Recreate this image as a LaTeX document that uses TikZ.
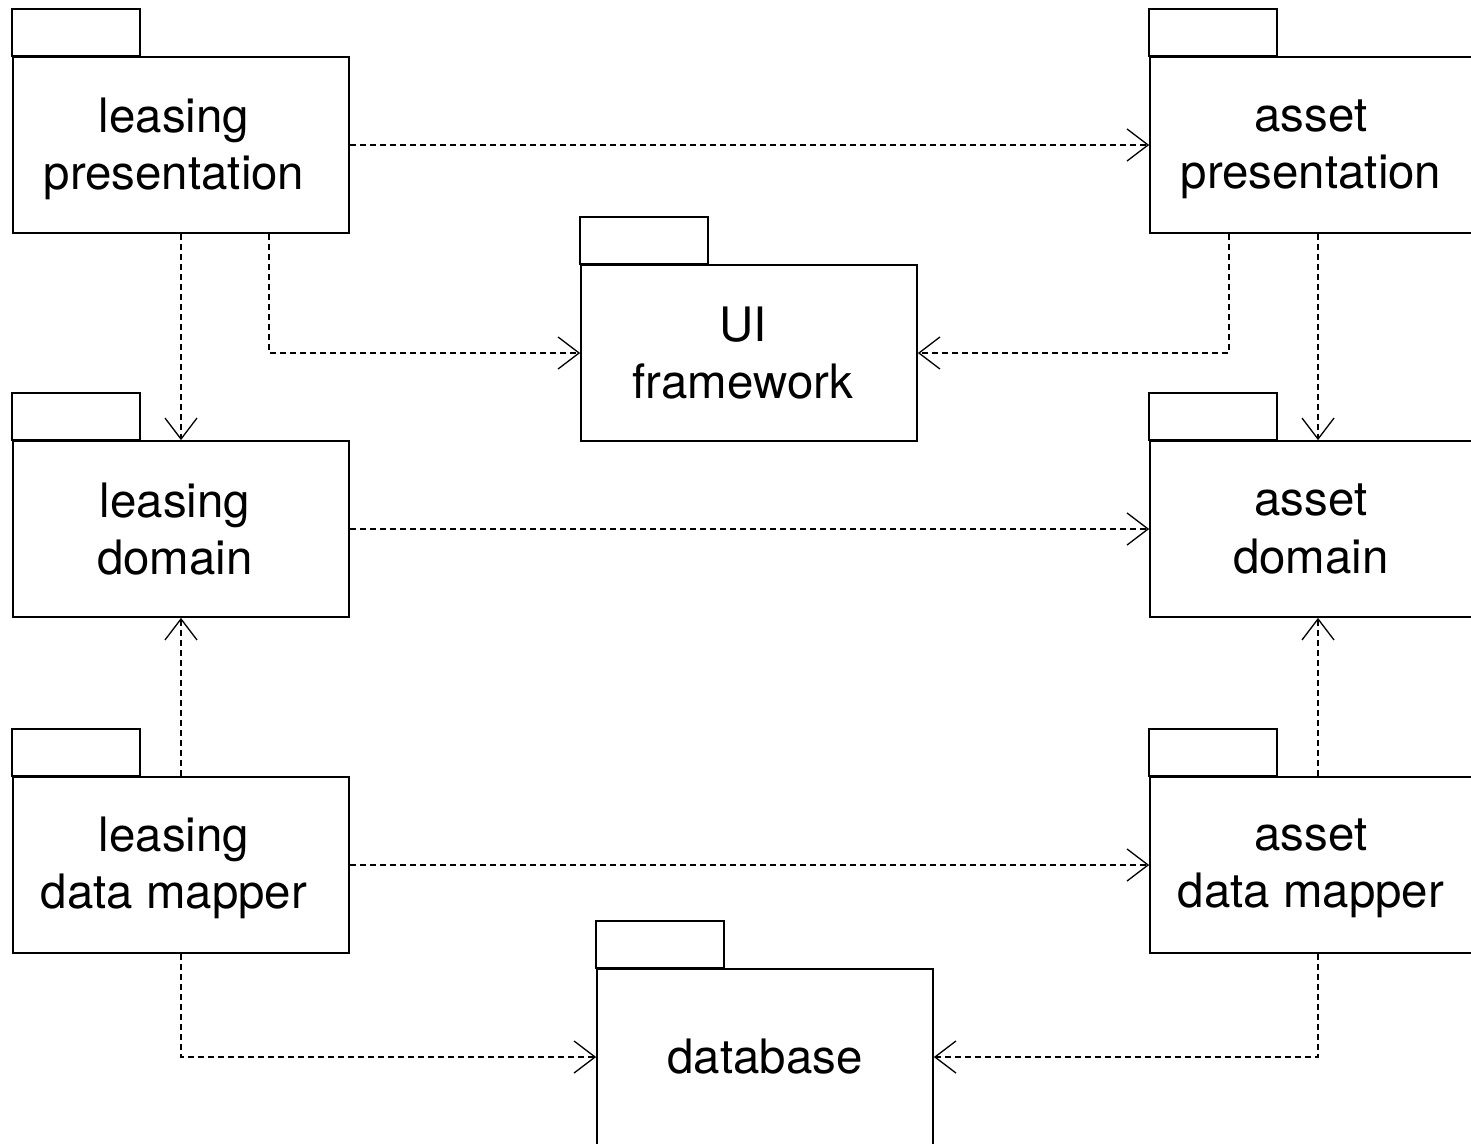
\documentclass[tikz,border=0pt]{standalone}
\usepackage{fontspec}
\setmainfont{TeX Gyre Heros}
\usetikzlibrary{arrows.meta}
\begin{document}
\begin{tikzpicture}[x=0.02cm,y=-0.02cm,
  pkg/.style={draw, line width=1pt, fill=white, minimum width=6.72cm, minimum height=3.52cm,
    inner sep=0pt},
  lbl/.style={align=center, inner sep=0pt, font=\fontsize{27}{32.5}\selectfont},
  tab/.style={draw, line width=1pt},
  dep/.style={line width=0.75pt, dash pattern=on 0.12cm off 0.08cm,
    -{Straight Barb[length=0.42cm, width=0.64cm, line width=0.75pt, sep=0pt]}}]
\useasboundingbox (0,0) rectangle (1471,1143);
\clip (0,0) rectangle (1471,1143);
\fill[white] (0,0) rectangle (1471,1143);

\node[pkg] (lp) at (181,145) {};
\node[pkg] (ap) at (1318,145) {};
\node[pkg] (ui) at (749,353) {};
\node[pkg] (ld) at (181,529) {};
\node[pkg] (ad) at (1318,529) {};
\node[pkg] (lm) at (181,865) {};
\node[pkg] (am) at (1318,865) {};
\node[pkg] (db) at (765,1057) {};

\node[lbl] (lpT) at ([shift={(-7,4)}]lp.center) {leasing\\presentation};
\node[lbl] (apT) at ([shift={(-7,4)}]ap.center) {asset\\presentation};
\node[lbl] (uiT) at ([shift={(-6,0)}]ui.center) {UI\\framework};
\node[lbl] (ldT) at ([shift={(-6,0)}]ld.center) {leasing\\domain};
\node[lbl] (adT) at ([shift={(-7,0)}]ad.center) {asset\\domain};
\node[lbl] (lmT) at ([shift={(-7,3)}]lm.center) {leasing\\data mapper};
\node[lbl] (amT) at ([shift={(-7,3)}]am.center) {asset\\data mapper};
\node[lbl] (dbT) at (db.center) {database};

\foreach \n in {lp,ap,ui,ld,ad,lm,am,db}
  \draw[tab] (\n.north west) rectangle ++(128,-47);

\draw[dep] (lp.east) -- (ap.west);
\draw[dep] (lp.south) -- (ld.north);
\draw[dep] ([xshift=1.76cm]lp.south) |- (ui.west);
\draw[dep] ([xshift=-1.78cm]ap.south) |- (ui.east);
\draw[dep] (ap.south) -- (ad.north);
\draw[dep] (ld.east) -- (ad.west);
\draw[dep] (lm.north) -- (ld.south);
\draw[dep] (am.north) -- (ad.south);
\draw[dep] (lm.east) -- (am.west);
\draw[dep] (lm.south) |- (db.west);
\draw[dep] (am.south) |- (db.east);
\end{tikzpicture}
\end{document}
